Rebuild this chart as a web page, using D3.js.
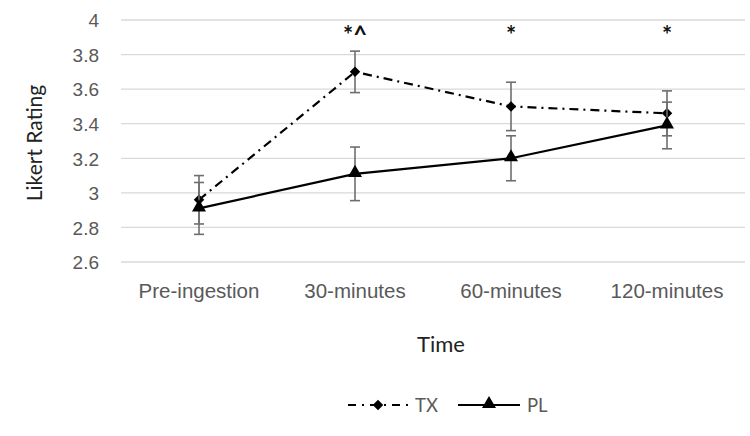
<!DOCTYPE html>
<html>
<head>
<meta charset="utf-8">
<script src="https://cdn.jsdelivr.net/npm/d3@7"></script>
<style>
  body { margin: 0; background: #fff; }
  svg { font-family: Lato, "Open Sans", sans-serif; }
</style>
</head>
<body>
<svg id="chart" width="750" height="436"></svg>
<script>
const categories = ['Pre-ingestion', '30-minutes', '60-minutes', '120-minutes'];
const txValues = [2.96, 3.70, 3.50, 3.46];
const txErrors = [0.14, 0.12, 0.14, 0.13];
const plValues = [2.91, 3.11, 3.20, 3.39];
const plErrors = [0.15, 0.155, 0.13, 0.135];
const yTicks = [2.6, 2.8, 3, 3.2, 3.4, 3.6, 3.8, 4];
const markers = ['*^', '*', '*'];
const markerIdx = [1, 2, 3];

const svg = d3.select('#chart');
const plotLeft = 121, plotRight = 745, plotTop = 20, plotBottom = 262;

const x = d3.scaleBand().domain(categories).range([plotLeft, plotRight]);
const y = d3.scaleLinear().domain([2.6, 4]).range([plotBottom, plotTop]);
const cx = d => x(d) + x.bandwidth() / 2;

// grid
svg.append('g').selectAll('line').data(yTicks).join('line')
    .attr('x1', plotLeft).attr('x2', plotRight)
    .attr('y1', d => y(d)).attr('y2', d => y(d))
    .style('stroke', '#d9d9d9').style('stroke-width', 1.3);

const yAxis = d3.axisLeft(y).tickValues(yTicks).tickSize(0).tickPadding(0)
    .tickFormat(d => d3.format('')(d));
svg.append('g').attr('transform', 'translate(99,0)').call(yAxis)
    .call(g => g.select('.domain').remove())
    .selectAll('text').style('font-size', '19px').style('fill', '#595959')
    .attr('dy', '0.36em');

const xAxis = d3.axisBottom(x).tickSize(0).tickPadding(0);
svg.append('g').attr('transform', 'translate(0,298)').call(xAxis)
    .call(g => g.select('.domain').remove())
    .selectAll('text').style('font-size', '20.5px').style('fill', '#595959')
    .attr('y', 0).attr('dy', 0);

svg.append('text').attr('transform', 'translate(42,143) rotate(-90)')
    .attr('text-anchor', 'middle').style('font-size', '21px').style('fill', '#222')
    .text('Likert Rating');
svg.append('text').attr('x', 441).attr('y', 352)
    .attr('text-anchor', 'middle').style('font-size', '22px').style('fill', '#222')
    .text('Time');

function series(vals, errs, dash) {
  const pts = categories.map((c, i) => ({c, v: vals[i], e: errs[i]}));
  const g = svg.append('g');
  g.selectAll('g.err').data(pts).join('g').attr('class', 'err').each(function(d) {
    const s = d3.select(this), px = cx(d.c);
    s.append('line').attr('x1', px).attr('x2', px)
        .attr('y1', y(d.v + d.e)).attr('y2', y(d.v - d.e));
    [d.v + d.e, d.v - d.e].forEach(v => s.append('line')
        .attr('x1', px - 5).attr('x2', px + 5).attr('y1', y(v)).attr('y2', y(v)));
  }).selectAll('line').style('stroke', '#6e6e6e').style('stroke-width', 1.6);
  g.append('path').datum(pts)
      .attr('d', d3.line().x(d => cx(d.c)).y(d => y(d.v)))
      .style('fill', 'none').style('stroke', '#000').style('stroke-width', 2.2)
      .style('stroke-dasharray', dash);
  return {g, pts};
}

const tx = series(txValues, txErrors, '9,5,2,5');
const pl = series(plValues, plErrors, null);

const diamond = d3.symbol().type(d3.symbolDiamond2).size(70);
const triangle = d3.symbol().type(d3.symbolTriangle).size(85);

tx.g.selectAll('path.m').data(tx.pts).join('path').attr('class', 'm')
    .attr('transform', d => `translate(${cx(d.c)},${y(d.v)})`)
    .attr('d', diamond).style('fill', '#000');
pl.g.selectAll('path.m').data(pl.pts).join('path').attr('class', 'm')
    .attr('transform', d => `translate(${cx(d.c)},${y(d.v) - 1})`)
    .attr('d', triangle).style('fill', '#000');

svg.append('g').selectAll('text').data(markers).join('text')
    .attr('x', (d, i) => cx(categories[markerIdx[i]]))
    .attr('y', 44)
    .attr('text-anchor', 'middle').style('font-size', '24px').style('font-weight', 'bold')
    .style('fill', '#111').text(d => d);

// legend
const lg = svg.append('g').attr('transform', 'translate(0,405)');
lg.append('line').attr('x1', 348).attr('x2', 410).attr('y1', 0).attr('y2', 0)
    .style('stroke', '#000').style('stroke-width', 2.2).style('stroke-dasharray', '8,6,2,6');
lg.append('path').attr('transform', 'translate(378,0)').attr('d', diamond).style('fill', '#000');
lg.append('text').attr('x', 415).attr('y', 0).attr('dy', '0.36em')
    .style('font-size', '18.5px').style('fill', '#595959').text('TX');
lg.append('line').attr('x1', 458).attr('x2', 520).attr('y1', 0).attr('y2', 0)
    .style('stroke', '#000').style('stroke-width', 2.2);
lg.append('path').attr('transform', 'translate(489,-1)').attr('d', triangle).style('fill', '#000');
lg.append('text').attr('x', 527).attr('y', 0).attr('dy', '0.36em')
    .style('font-size', '18.5px').style('fill', '#595959').text('PL');
</script>
</body>
</html>
